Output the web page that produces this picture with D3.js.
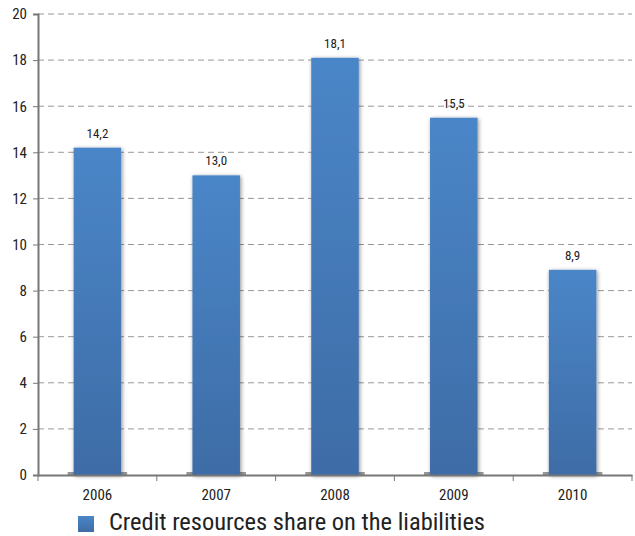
<!DOCTYPE html>
<html><head><meta charset="utf-8">
<script src="https://cdn.jsdelivr.net/npm/d3@7"></script>
<style>body{margin:0;background:#fff}svg{display:block}text{font-family:"Liberation Sans Narrow","Roboto Condensed","Arial Narrow",sans-serif;fill:#222}</style>
</head><body>
<svg id="c" width="635" height="536"></svg>
<script>
const categories = ["2006","2007","2008","2009","2010"];
const values = [14.2, 13.0, 18.1, 15.5, 8.9];
const valueLabels = ["14,2","13,0","18,1","15,5","8,9"];
const yTicks = [0,2,4,6,8,10,12,14,16,18,20];
const seriesName = "Credit resources share on the liabilities";

const svg = d3.select("#c");
const L=38, R=632, T=14, B=475;
const x = d3.scaleBand().domain(categories).range([L,R]).paddingInner(0.6).paddingOuter(0.3);
const xb = d3.scaleBand().domain(categories).range([L,R]);
const y = d3.scaleLinear().domain([0,20]).range([B,T]);

const defs = svg.append("defs");
const g = defs.append("linearGradient").attr("id","bg").attr("x1",0).attr("y1",0).attr("x2",0).attr("y2",1);
g.append("stop").attr("offset","0%").attr("stop-color","#4a86c8");
g.append("stop").attr("offset","100%").attr("stop-color","#3e6ca6");
const f = defs.append("filter").attr("id","sh").attr("x","-30%").attr("y","-10%").attr("width","160%").attr("height","120%");
f.append("feGaussianBlur").attr("in","SourceAlpha").attr("stdDeviation",2);
f.append("feOffset").attr("dx",1).attr("dy",1).attr("result","b");
f.append("feComponentTransfer").append("feFuncA").attr("type","linear").attr("slope",0.45);
const m=f.append("feMerge"); m.append("feMergeNode"); m.append("feMergeNode").attr("in","SourceGraphic");

// gridlines
svg.append("g").selectAll("line").data(yTicks.filter(d=>d>0)).join("line")
  .attr("x1",L).attr("x2",R).attr("y1",d=>y(d)).attr("y2",d=>y(d))
  .attr("stroke","#999").attr("stroke-width",1).attr("stroke-dasharray","6,4");

// bar bases
svg.append("g").selectAll("rect").data(categories).join("rect")
  .attr("x",d=>x(d)-6).attr("width",x.bandwidth()+12).attr("y",B-3).attr("height",3)
  .attr("fill","#6a6a6a").attr("opacity",0.7);

// bars
svg.append("g").selectAll("rect").data(values).join("rect")
  .attr("x",(d,i)=>x(categories[i])).attr("width",x.bandwidth())
  .attr("y",d=>y(d)).attr("height",d=>B-y(d))
  .attr("fill","url(#bg)").attr("filter","url(#sh)");

// value labels
svg.append("g").selectAll("text").data(values).join("text")
  .attr("x",(d,i)=>x(categories[i])+x.bandwidth()/2).attr("y",d=>y(d)-10)
  .attr("text-anchor","middle").attr("font-size",13).text((d,i)=>valueLabels[i]);

// y axis
const ya = svg.append("g").attr("transform",`translate(${L},0)`)
  .call(d3.axisLeft(y).tickValues(yTicks).tickSize(5).tickPadding(6).tickFormat(d3.format("d")));
ya.select(".domain").attr("stroke","#777").attr("stroke-width",2);
ya.selectAll(".tick line").attr("stroke","#777");
ya.selectAll(".tick text").attr("font-size",15).attr("fill","#222").attr("font-family",'"Liberation Sans Narrow","Roboto Condensed",sans-serif');

// x axis
const xa = svg.append("g").attr("transform",`translate(0,${B})`)
  .call(d3.axisBottom(xb).tickSize(0).tickPadding(14));
xa.select(".domain").attr("stroke","#777").attr("stroke-width",2);
xa.selectAll(".tick text").attr("font-size",15).attr("fill","#222").attr("font-family",'"Liberation Sans Narrow","Roboto Condensed",sans-serif');
svg.append("g").selectAll("line").data(categories.map(c=>xb(c)).concat([R])).join("line")
  .attr("x1",d=>d).attr("x2",d=>d).attr("y1",B).attr("y2",B+6).attr("stroke","#777");

// legend
svg.append("rect").attr("x",78).attr("y",516).attr("width",16).attr("height",16).attr("fill","url(#bg)");
svg.append("text").attr("x",109).attr("y",530).attr("font-size",24).attr("textLength",376).attr("lengthAdjust","spacingAndGlyphs").attr("fill","#222").text(seriesName);
</script>
</body></html>
